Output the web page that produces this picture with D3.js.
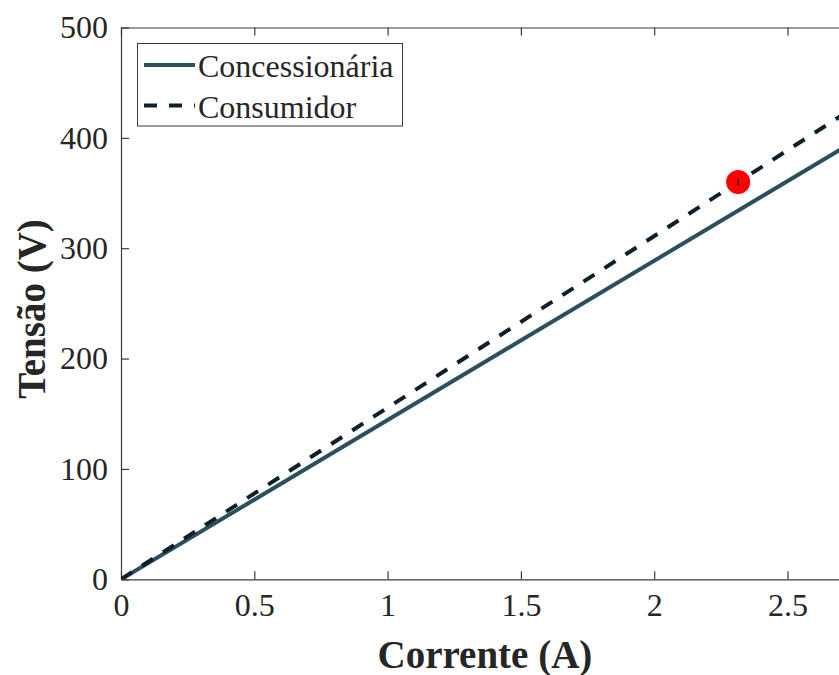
<!DOCTYPE html>
<html>
<head>
<meta charset="utf-8">
<script src="https://cdn.jsdelivr.net/npm/d3@7"></script>
<style>
  body { margin: 0; background: #fff; }
  svg text { font-family: "Liberation Serif", "Times New Roman", serif; fill: #262626; }
</style>
</head>
<body>
<div id="chart"></div>
<script>
// data
const current = [0, 2.73];
const concessionaria = [0, 394];
const consumidor = [0, 424.5];
const opPoint = [{ i: 2.315, v: 360 }];
const xTicks = [0, 0.5, 1, 1.5, 2, 2.5];
const yTicks = [0, 100, 200, 300, 400, 500];
const seriesNames = ["Concessionária", "Consumidor"];

const width = 839, height = 675;
const margin = { left: 121, top: 27.5, bottom: 579.3 };
const xMax = 2.73;

const svg = d3.select("#chart").append("svg")
  .attr("width", width)
  .attr("height", height);

const x = d3.scaleLinear().domain([0, xMax]).range([margin.left, margin.left + xMax * 266.6]);
const y = d3.scaleLinear().domain([0, 500]).range([margin.bottom, margin.top]);

const series = [
  { name: seriesNames[0], values: concessionaria, color: "#2b505b", dash: null },
  { name: seriesNames[1], values: consumidor, color: "#0f202b", dash: "13,12" }
];

// axes (box with inward ticks)
const axisColor = "#3a3a3a";
const gBottom = svg.append("g").attr("transform", `translate(0,${margin.bottom})`)
  .call(d3.axisBottom(x).tickValues(xTicks).tickFormat(d3.format("")).tickSizeInner(-8).tickSizeOuter(0).tickPadding(14));
const gTop = svg.append("g").attr("transform", `translate(0,${margin.top})`)
  .call(d3.axisTop(x).tickValues(xTicks).tickFormat("").tickSizeInner(-8).tickSizeOuter(0));
const gLeft = svg.append("g").attr("transform", `translate(${margin.left},0)`)
  .call(d3.axisLeft(y).tickValues(yTicks).tickSizeInner(-8).tickSizeOuter(0).tickPadding(13));

[gBottom, gTop, gLeft].forEach(g => {
  g.select(".domain").attr("stroke", axisColor).attr("stroke-width", 1.2);
  g.selectAll(".tick line").attr("stroke", axisColor).attr("stroke-width", 1.2);
  g.selectAll(".tick text").style("font-size", "32px").attr("fill", "#262626");
});

// clip plot area
svg.append("clipPath").attr("id", "clip")
  .append("rect").attr("x", margin.left).attr("y", margin.top)
  .attr("width", width - margin.left).attr("height", margin.bottom - margin.top);

const line = d3.line().x(d => x(d[0])).y(d => y(d[1]));

svg.append("g").attr("clip-path", "url(#clip)")
  .selectAll("path")
  .data(series)
  .join("path")
  .attr("d", d => line(current.map((c, k) => [c, d.values[k]])))
  .attr("fill", "none")
  .attr("stroke", d => d.color)
  .attr("stroke-width", 4)
  .attr("stroke-dasharray", d => d.dash);

// operating point
const pt = svg.append("g").selectAll("g").data(opPoint).join("g");
pt.append("circle")
  .attr("cx", d => x(d.i)).attr("cy", d => y(d.v))
  .attr("r", 12).attr("fill", "#ff0000");
pt.append("line")
  .attr("x1", d => x(d.i)).attr("x2", d => x(d.i))
  .attr("y1", d => y(d.v) - 3).attr("y2", d => y(d.v) + 3)
  .attr("stroke", "#000").attr("stroke-width", 1.2);

// axis labels
svg.append("text")
  .attr("x", x(xMax / 2)).attr("y", 668)
  .attr("text-anchor", "middle")
  .style("font-size", "39px").style("font-weight", "bold")
  .text("Corrente (A)");

svg.append("text")
  .attr("transform", `translate(45,${y(245)}) rotate(-90)`)
  .attr("text-anchor", "middle")
  .style("font-size", "39px").style("font-weight", "bold")
  .text("Tensão (V)");

// legend
const legend = svg.append("g");
legend.append("rect")
  .attr("x", 137.5).attr("y", 43.5).attr("width", 265).attr("height", 82.5)
  .attr("fill", "#fff").attr("stroke", axisColor).attr("stroke-width", 1);
const items = legend.selectAll("g.item").data(series).join("g")
  .attr("class", "item")
  .attr("transform", (d, k) => `translate(0,${65 + k * 40.5})`);
items.append("line")
  .attr("x1", 144).attr("x2", 195).attr("y1", 0).attr("y2", 0)
  .attr("stroke", d => d.color).attr("stroke-width", 4)
  .attr("stroke-dasharray", d => d.dash);
items.append("text")
  .attr("x", 198).attr("y", 12)
  .style("font-size", "32px")
  .text(d => d.name);
</script>
</body>
</html>
